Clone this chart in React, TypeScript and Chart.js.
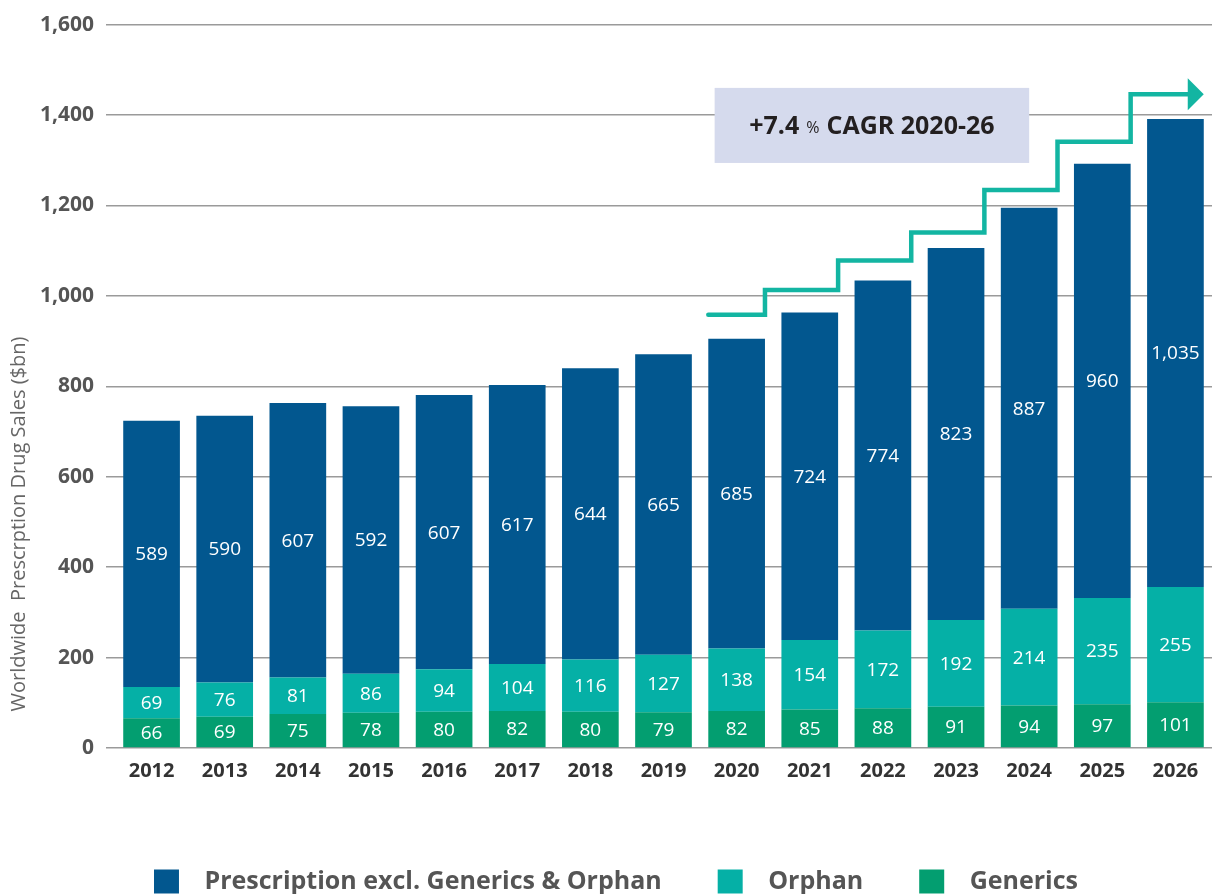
import React, { useEffect, useRef } from 'react';
import { Chart, registerables } from 'chart.js';

Chart.register(...registerables);

const years = ['2012', '2013', '2014', '2015', '2016', '2017', '2018', '2019', '2020', '2021', '2022', '2023', '2024', '2025', '2026'];
const prescription = [589, 590, 607, 592, 607, 617, 644, 665, 685, 724, 774, 823, 887, 960, 1035];
const orphan = [69, 76, 81, 86, 94, 104, 116, 127, 138, 154, 172, 192, 214, 235, 255];
const generics = [66, 69, 75, 78, 80, 82, 80, 79, 82, 85, 88, 91, 94, 97, 101];
const seriesNames = ['Generics', 'Orphan', 'Prescription excl. Generics & Orphan'];
const yTickMax = 1600;
const yTickStep = 200;
// levels of the stepped CAGR arrow, 2020 → 2026
const stepLevels = [958, 1013, 1078, 1140, 1234, 1341, 1446];
const stepStartIndex = 8;
const cagrParts = ['+7.4', '%', 'CAGR 2020-26'];
const cagrBoxRange = [1294, 1460];
const yTitle = 'Worldwide  Prescrption Drug Sales ($bn)';

const FONT = '"Open Sans", sans-serif';
const C_PRESC = '#02578F';
const C_ORPHAN = '#05B0A6';
const C_GENERIC = '#039E70';
const C_STEP = '#13B5A2';

const fmt = (v: number) => v.toLocaleString('en-US');

const labelPlugin = {
  id: 'segLabels',
  afterDatasetsDraw(chart: any) {
    const ctx = chart.ctx;
    ctx.save();
    ctx.font = `19px ${FONT}`;
    ctx.fillStyle = '#ffffff';
    ctx.textAlign = 'center';
    ctx.textBaseline = 'middle';
    chart.data.datasets.forEach((ds: any, di: number) => {
      const meta = chart.getDatasetMeta(di);
      meta.data.forEach((el: any, i: number) => {
        const { x, y, base } = el.getProps(['x', 'y', 'base'], true);
        ctx.fillText(fmt(ds.data[i]), x, (y + base) / 2 + 1);
      });
    });
    ctx.restore();
  },
};

const legendShiftPlugin = {
  id: 'legendShift',
  afterLayout(chart: any) {
    if (chart.legend) {
      chart.legend.left += 10;
      chart.legend.right += 10;
    }
  },
};

const overlayPlugin = {
  id: 'overlay',
  beforeDatasetsDraw(chart: any) {
    const ctx = chart.ctx;
    const xs = chart.scales.x;
    const ys = chart.scales.y;
    // CAGR box
    const left = xs.getPixelForValue(stepStartIndex) - 22;
    const right = xs.getPixelForValue(stepStartIndex + 4);
    const top = ys.getPixelForValue(cagrBoxRange[1]);
    const bottom = ys.getPixelForValue(cagrBoxRange[0]);
    ctx.save();
    ctx.fillStyle = '#D5DAED';
    ctx.fillRect(left, top, right - left, bottom - top);
    const bold = `bold 25px ${FONT}`;
    const small = `16px ${FONT}`;
    ctx.font = bold;
    const w1 = ctx.measureText(cagrParts[0]).width;
    const w3 = ctx.measureText(cagrParts[2]).width;
    ctx.font = small;
    const w2 = ctx.measureText(cagrParts[1]).width;
    const gap = 7;
    const total = w1 + gap + w2 + gap + w3;
    let cx = (left + right) / 2 - total / 2;
    const cy = (top + bottom) / 2 + 1;
    ctx.fillStyle = '#231F20';
    ctx.textBaseline = 'middle';
    ctx.textAlign = 'left';
    ctx.font = bold;
    ctx.fillText(cagrParts[0], cx, cy);
    cx += w1 + gap;
    ctx.font = small;
    ctx.fillText(cagrParts[1], cx, cy + 2);
    cx += w2 + gap;
    ctx.font = bold;
    ctx.fillText(cagrParts[2], cx, cy);
    ctx.restore();
  },
  afterDatasetsDraw(chart: any) {
    const ctx = chart.ctx;
    const ys = chart.scales.y;
    const meta = chart.getDatasetMeta(0);
    const edge = (i: number, side: number) => {
      const el: any = meta.data[i];
      const { x, width } = el.getProps(['x', 'width'], true);
      return x + (side * width) / 2;
    };
    const pts: [number, number][] = [];
    pts.push([edge(stepStartIndex, -1), ys.getPixelForValue(stepLevels[0])]);
    for (let k = 0; k < stepLevels.length; k++) {
      const yv = ys.getPixelForValue(stepLevels[k]);
      if (k > 0) pts.push([edge(stepStartIndex + k - 1, 1), yv]);
      if (k < stepLevels.length - 1) pts.push([edge(stepStartIndex + k, 1), yv]);
    }
    const lastIdx = stepStartIndex + stepLevels.length - 1;
    const tipX = edge(lastIdx, 1);
    const lastY = ys.getPixelForValue(stepLevels[stepLevels.length - 1]);
    const headLen = 16;
    pts.push([tipX - headLen, lastY]);
    ctx.save();
    ctx.strokeStyle = C_STEP;
    ctx.lineWidth = 4.5;
    ctx.lineJoin = 'miter';
    ctx.lineCap = 'round';
    ctx.beginPath();
    pts.forEach(([x, y], i) => (i === 0 ? ctx.moveTo(x, y) : ctx.lineTo(x, y)));
    ctx.stroke();
    ctx.fillStyle = C_STEP;
    ctx.beginPath();
    ctx.moveTo(tipX - headLen, lastY - 16);
    ctx.lineTo(tipX, lastY);
    ctx.lineTo(tipX - headLen, lastY + 16);
    ctx.closePath();
    ctx.fill();
    ctx.restore();
  },
};

const yTitlePlugin = {
  id: 'yTitle',
  afterDraw(chart: any) {
    const ctx = chart.ctx;
    ctx.save();
    ctx.translate(19, 524);
    ctx.rotate(-Math.PI / 2);
    ctx.font = `20px ${FONT}`;
    ctx.fillStyle = '#666666';
    ctx.textAlign = 'center';
    ctx.textBaseline = 'middle';
    ctx.fillText(yTitle, 0, 0);
    ctx.restore();
  },
};

export default function App() {
  const ref = useRef<HTMLCanvasElement>(null);
  useEffect(() => {
    if (!ref.current) return;
    const chart = new Chart(ref.current, {
      type: 'bar',
      data: {
        labels: years,
        datasets: [
          { label: seriesNames[0], data: generics, backgroundColor: C_GENERIC, borderWidth: 0 },
          { label: seriesNames[1], data: orphan, backgroundColor: C_ORPHAN, borderWidth: 0 },
          { label: seriesNames[2], data: prescription, backgroundColor: C_PRESC, borderWidth: 0 },
        ],
      },
      options: {
        responsive: false,
        animation: false,
        datasets: { bar: { barPercentage: 0.775, categoryPercentage: 1 } },
        layout: { padding: { top: 15, left: 0, right: 0, bottom: 0 } },
        scales: {
          x: {
            stacked: true,
            grid: { display: false, drawTicks: false },
            border: { display: false },
            ticks: { color: '#333333', font: { family: FONT, size: 20, weight: 'bold' }, padding: 11 },
            afterFit: (s: any) => { s.height = 65; },
          },
          y: {
            stacked: true,
            min: 0,
            max: yTickMax,
            grid: { color: '#9A9A9A', lineWidth: 1.5, tickLength: 9 },
            border: { display: false },
            ticks: {
              stepSize: yTickStep,
              color: '#555555',
              padding: 12,
              font: { family: FONT, size: 21, weight: 'bold' },
              callback: (v: any) => fmt(Number(v)),
            },
            afterFit: (s: any) => { s.width = 115; },
          },
        },
        plugins: {
          tooltip: { enabled: false },
          legend: {
            position: 'bottom',
            reverse: true,
            labels: {
              boxWidth: 25,
              boxHeight: 24,
              padding: 56,
              color: '#555555',
              font: { family: FONT, size: 25, weight: 'bold' },
              generateLabels: (c: any) =>
                Chart.defaults.plugins.legend.labels.generateLabels(c).map((l: any) => ({ ...l, text: '  ' + l.text })),
            },
          },
        },
      },
      plugins: [overlayPlugin, labelPlugin, yTitlePlugin, legendShiftPlugin],
    } as any);
    return () => chart.destroy();
  }, []);
  return (
    <div style={{ position: 'fixed', left: 0, top: 0, width: 1212, height: 894, overflow: 'hidden', background: '#ffffff' }}>
      <canvas ref={ref} width={1212} height={904} style={{ display: 'block' }} />
    </div>
  );
}
